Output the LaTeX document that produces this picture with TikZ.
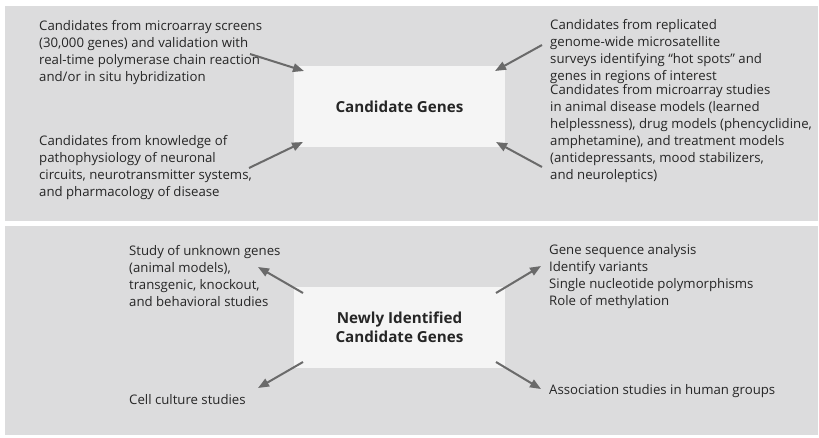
\documentclass[tikz,border=0pt]{standalone}
\usepackage{fontspec}
\setmainfont{Open Sans}
\usetikzlibrary{arrows.meta}
\definecolor{panelgray}{HTML}{DCDCDD}
\definecolor{boxwhite}{HTML}{F5F5F5}
\definecolor{arrowgray}{HTML}{6A6A6A}
\definecolor{txt}{HTML}{262626}
\tikzset{
  panel/.style={fill=panelgray, draw=none},
  centerbox/.style={fill=boxwhite, draw=none, minimum width=211pt, minimum height=81pt, inner sep=0pt, align=center, font=\fontsize{15.2}{19.5}\selectfont\bfseries, text=txt},
  label/.style={anchor=north west, inner sep=0pt, align=left, font=\fontsize{13.2}{17}\selectfont, text=txt},
  arr/.style={draw=arrowgray, line width=2pt, -{Triangle[length=11pt,width=8.5pt]}}
}
\begin{document}
\begin{tikzpicture}[x=1pt,y=-1pt]
\useasboundingbox (0,0) rectangle (819,437);
\fill[white] (0,0) rectangle (819,437);
% panels
\path[panel] (5,6) rectangle (818,221);
\path[panel] (5,226) rectangle (818,435);
% central boxes
\node[centerbox] (cg) at (399.5,106.5) {Candidate Genes};
\node[centerbox] (ncg) at (399.5,327.5) {Newly Identified\\Candidate Genes};
% top texts
\node[label] (t1) at (39,20) {Candidates from microarray screens\\(30,000 genes) and validation with\\real-time polymerase chain reaction\\and/or in situ hybridization};
\node[label] (t2) at (39,135) {Candidates from knowledge of\\pathophysiology of neuronal\\circuits, neurotransmitter systems,\\and pharmacology of disease};
\node[label] (t3) at (550,19) {Candidates from replicated\\genome-wide microsatellite\\surveys identifying “hot spots” and\\genes in regions of interest};
\node[label] (t4) at (550,84) {Candidates from microarray studies\\in animal disease models (learned\\helplessness), drug models (phencyclidine,\\amphetamine), and treatment models\\(antidepressants, mood stabilizers,\\and neuroleptics)};
% bottom texts
\node[label] (b1) at (129,245) {Study of unknown genes\\(animal models),\\transgenic, knockout,\\and behavioral studies};
\node[label] (b2) at (129,394.5) {Cell culture studies};
\node[label] (b3) at (549,244) {Gene sequence analysis\\Identify variants\\Single nucleotide polymorphisms\\Role of methylation};
\node[label] (b4) at (549,384.5) {Association studies in human groups};
% arrow endpoints
\coordinate (a1s) at (250,54);  \coordinate (a1e) at (304,71);
\coordinate (a2s) at (249,168); \coordinate (a2e) at (303,142);
\coordinate (a3s) at (542,45);  \coordinate (a3e) at (495,71);
\coordinate (a4s) at (542,167); \coordinate (a4e) at (496,142);
\coordinate (b1s) at (303,293); \coordinate (b1e) at (258,267);
\coordinate (b2s) at (303,362); \coordinate (b2e) at (258,388);
\coordinate (b3s) at (496,293); \coordinate (b3e) at (541,266);
\coordinate (b4s) at (496,362); \coordinate (b4e) at (541,389);
\draw[arr] (a1s) -- (a1e);
\draw[arr] (a2s) -- (a2e);
\draw[arr] (a3s) -- (a3e);
\draw[arr] (a4s) -- (a4e);
\draw[arr] (b1s) -- (b1e);
\draw[arr] (b2s) -- (b2e);
\draw[arr] (b3s) -- (b3e);
\draw[arr] (b4s) -- (b4e);
\end{tikzpicture}
\end{document}
